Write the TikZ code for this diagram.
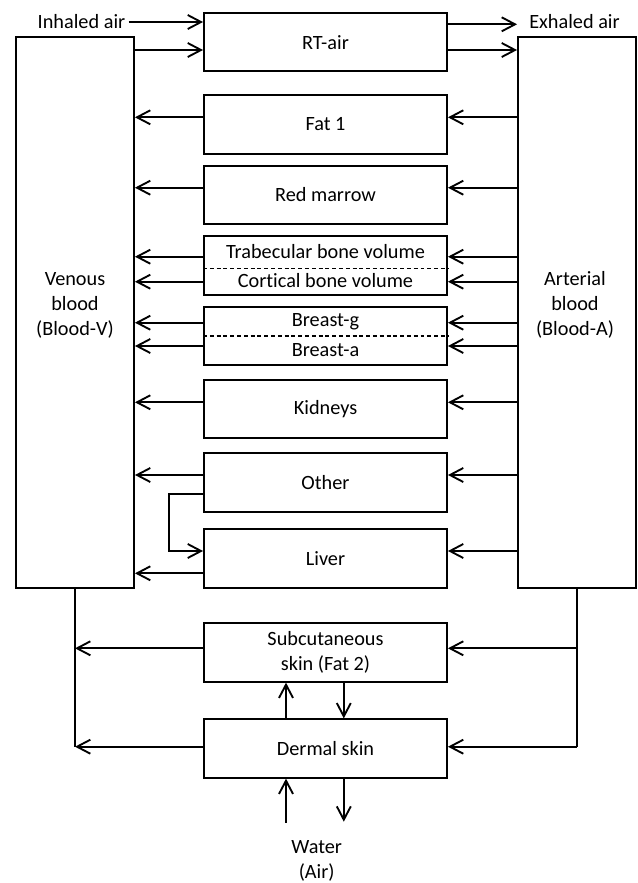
\documentclass[tikz,border=0pt]{standalone}
\usepackage{fontspec}
\setmainfont[Ligatures=NoCommon]{Carlito}
\usetikzlibrary{positioning,arrows.meta}

\begin{document}
\begin{tikzpicture}[x=0.03cm, y=-0.03cm, line width=1.6pt,
  font=\fontsize{17.3}{21.3}\selectfont,
  >={Straight Barb[length=4mm,width=4.2mm]},
  organ/.style={draw, minimum width=7.29cm, minimum height=1.75cm, inner sep=0pt, align=center},
  blood/.style={draw, minimum width=3.54cm, minimum height=16.53cm, inner sep=0pt},
  lbl/.style={inner sep=2pt, align=center},
  split/.style={line width=1.2pt, dash pattern=on 3.4pt off 2.4pt}]
  \useasboundingbox (0,0) rectangle (638,883);

  % blood compartments
  \node[blood] (venous) at (75,312.2) {};
  \node[blood] (arterial) at (577,312.2) {};
  \node[lbl] (venoustxt) at (75,305) {Venous\\blood\\(Blood-V)};
  \node[lbl] (arterialtxt) at (575,305) {Arterial\\blood\\(Blood-A)};

  % tissue compartments
  \foreach \n/\y/\t in {rtair/42.2/RT-air, fat/124.5/Fat 1, marrow/195/Red marrow, bone/265.4/{}, breast/335.8/{},
      kidneys/409.2/Kidneys, other/482.5/Other, liver/558.5/Liver, subcut/652.5/{Subcutaneous\\skin (Fat 2)}, dermal/748.5/Dermal skin}
    \node[organ] (\n) at (325.5,\y) {\t};

  % split boxes
  \draw[split] (bone.west |- 0,268.3) -- (bone.east |- 0,268.3);
  \node[lbl] (trab) at (325.5,251.7) {Trabecular bone volume};
  \node[lbl] (cort) at (325.5,280.7) {Cortical bone volume};
  \draw[split] (breast.west |- 0,336) -- (breast.east |- 0,336);
  \node[lbl] (breastg) at (325.5,321.7) {Breast-g};
  \node[lbl] (breasta) at (325.5,350) {Breast-a};

  % air
  \node[lbl] (inhaled) at (81.5,22) {Inhaled air};
  \node[lbl] (exhaled) at (574.5,22) {Exhaled air};
  \draw[->] (inhaled.east) -- (rtair.west |- inhaled.east);
  \draw[->] (rtair.east |- 0,24.3) -- (arterial.west |- 0,24.3);
  \draw[->] (venous.east |- 0,50) -- (rtair.west |- 0,50);
  \draw[->] (rtair.east |- 0,50) -- (arterial.west |- 0,50);

  % blood flow through the organs
  \foreach \n/\y in {fat/117.3, marrow/187.7, bone/256.7, bone/281.7, breast/322.7, breast/346, kidneys/402.3, other/475}{
    \draw[->] (arterial.west |- 0,\y) -- (\n.east |- 0,\y);
    \draw[->] (\n.west |- 0,\y) -- (venous.east |- 0,\y);
  }
  \draw[->] (arterial.west |- 0,551) -- (liver.east |- 0,551);
  \draw[->] (liver.west |- 0,573.3) -- (venous.east |- 0,573.3);
  \draw[->] (other.west |- 0,494) -| (169.3,551) -- (liver.west |- 0,551);

  % skin
  \coordinate (vbot) at (venous.south |- 0,746.7);
  \coordinate (abot) at (arterial.south |- 0,746.7);
  \draw (venous.south) -- (vbot);
  \draw (arterial.south) -- (abot);
  \draw[->] (subcut.west |- 0,648.3) -- (vbot |- 0,648.3);
  \draw[->] (dermal.west |- vbot) -- (vbot);
  \draw[->] (abot |- 0,648.3) -- (subcut.east |- 0,648.3);
  \draw[->] (abot) -- (dermal.east |- abot);
  \draw[->] (dermal.north -| 286,0) -- (subcut.south -| 286,0);
  \draw[->] (subcut.south -| 343.8,0) -- (dermal.north -| 343.8,0);

  % exchange with the surroundings
  \node[lbl] (water) at (316.7,861) {Water\\(Air)};
  \coordinate (wain) at (286,822.7);
  \coordinate (waout) at (343.8,821.7);
  \draw[->] (wain) -- (dermal.south -| wain);
  \draw[->] (dermal.south -| waout) -- (waout);
\end{tikzpicture}
\end{document}
